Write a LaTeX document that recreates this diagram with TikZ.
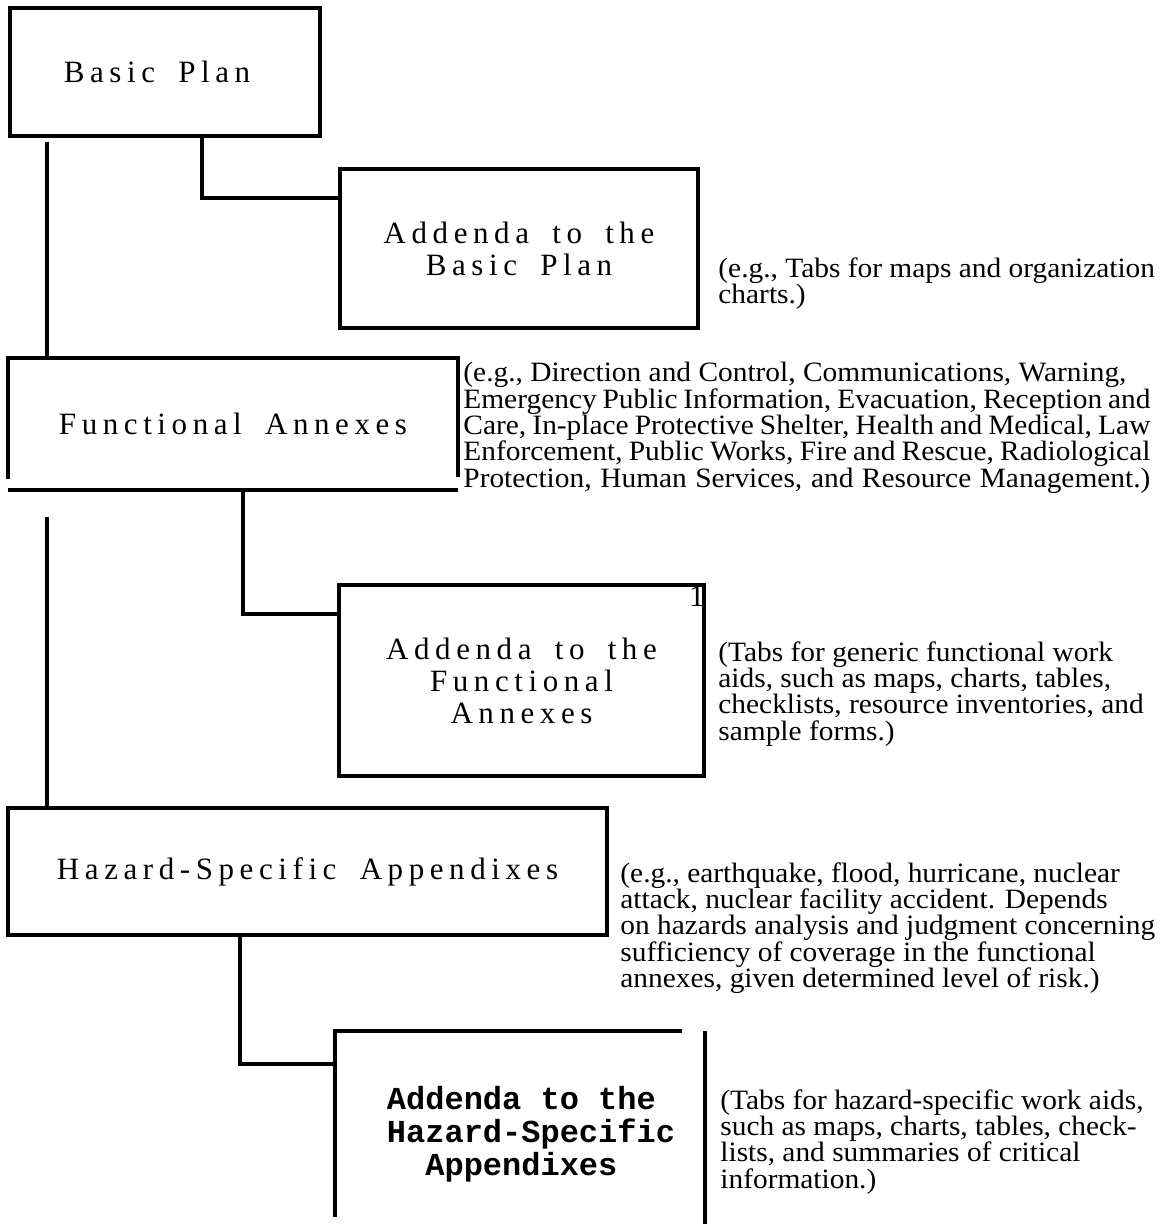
\documentclass[tikz,border=0pt]{standalone}
\usepackage{fontspec}
\setmainfont{Liberation Serif}
\setmonofont{Liberation Mono}
\newfontfamily\spacedfont[LetterSpace=18]{Liberation Serif}
\newfontfamily\notefont[FakeStretch=1.05]{Liberation Serif}
\usetikzlibrary{positioning}
\newcommand\wgap{\hspace{0.75em}}
\newcommand\jline[1]{\makebox[343.5pt][s]{#1}}
\newcommand\notesize{\notefont\fontsize{14pt}{13.15pt}\selectfont\lineskiplimit -10pt\relax}
\tikzset{%
  part/.style={draw, line width=2pt, inner sep=0pt, align=center,
    font=\spacedfont\fontsize{15.5pt}{16pt}\selectfont},
  open part/.style={part, draw=none},
  wire/.style={line width=2pt},
  note/.style={anchor=north west, inner sep=0pt, align=left, font=\notesize}
}

\begin{document}
\begin{tikzpicture}[x=0.5pt, y=-0.5pt]
 \useasboundingbox (0,0) rectangle (1161,1224);

 % the parts of the plan
 \node[part, minimum width=155pt, minimum height=64pt] (plan) at (165,72) {Basic\wgap Plan\hspace*{8pt}};
 \node[part, minimum width=179pt, minimum height=79.5pt] (addplan) at (519,248.5) {Addenda\wgap to\wgap the\\Basic\wgap Plan};
 \node[open part, minimum width=223pt, minimum height=64pt] (func) at (233,424) {Functional\wgap Annexes};
 \node[part, minimum width=182.5pt, minimum height=95.5pt] (addfunc) at (521.5,680.5) {Addenda\wgap to\wgap the\\Functional\\Annexes};
 \node[part, minimum width=299.5pt, minimum height=63.5pt] (haz) at (307.5,871.5) {Hazard-Specific\wgap Appendixes};
 \node[open part, minimum width=183pt, minimum height=101pt, align=left,
   font=\ttfamily\bfseries\fontsize{16pt}{16.5pt}\selectfont] (addhaz) at (520,1134)
   {\hspace*{11pt}Addenda to the\\\hspace*{11pt}Hazard-Specific\\\hspace*{11pt}\ \ Appendixes};
 \node[anchor=north east, inner sep=0pt, font=\fontsize{15.5pt}{15.5pt}\selectfont] (mark) at ([xshift=-0.5pt,yshift=-1.5pt]addfunc.north east) {1};

 % broken edges
 \draw[wire] ([yshift=5.5pt]func.south west) -- (func.north west) -- (func.north east) -- ([yshift=6.5pt]func.south east);
 \draw[wire] (func.south west) -- (func.south east);
 \draw[wire] ([yshift=10pt]addhaz.south west) -- (addhaz.north west) -- ([xshift=-11.5pt]addhaz.north east);
 \draw[wire] (addhaz.north east) -- ([yshift=6.5pt]addhaz.south east);

 % links
 \draw[wire] ([xshift=19.5pt,yshift=-2pt]plan.south west) -- ([xshift=19.5pt]plan.south west |- func.north);
 \draw[wire] ([xshift=97pt]plan.south west) |- ([yshift=-15.5pt]addplan.north west);
 \draw[wire] ([xshift=5pt]func.south) |- ([yshift=-15.5pt]addfunc.north west);
 \draw[wire] ([xshift=19.5pt,yshift=-13.5pt]func.south west) -- ([xshift=19.5pt]func.south west |- haz.north);
 \draw[wire] ([xshift=117pt]haz.south west) |- ([yshift=-16.5pt]addhaz.north west);

 % notes
 \node[note] (noteplan) at (718,257) {(e.g., Tabs for maps and organization\\charts.)};
 \node[note] (notefunc) at (463,362) {(e.g., Direction and Control, Communications, Warning,\\
   \jline{Emergency Public Information, Evacuation, Reception and}\\
   \jline{Care, In-place Protective Shelter, Health and Medical, Law}\\
   \jline{Enforcement, Public Works, Fire and Rescue, Radiological}\\
   \jline{Protection, Human Services, and Resource Management.)}};
 \node[note] (noteaddfunc) at (718,641) {(Tabs for generic functional work\\aids, such as maps, charts, tables,\\checklists, resource inventories, and\\sample forms.)};
 \node[note] (notehaz) at (620,862) {(e.g., earthquake, flood, hurricane, nuclear\\attack, nuclear facility accident. Depends\\on hazards analysis and judgment concerning\\sufficiency of coverage in the functional\\annexes, given determined level of risk.)};
 \node[note] (noteaddhaz) at (720,1089) {(Tabs for hazard-specific work aids,\\such as maps, charts, tables, check-\\lists, and summaries of critical\\information.)};

\end{tikzpicture}
\end{document}
